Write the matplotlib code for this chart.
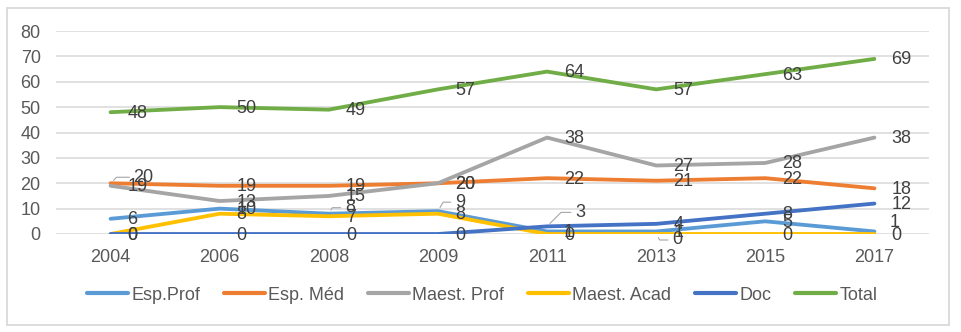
import matplotlib
matplotlib.use("Agg")
import matplotlib.pyplot as plt
from matplotlib.patches import Rectangle

# ---- data ------------------------------------------------------------------
years = ["2004", "2006", "2008", "2009", "2011", "2013", "2015", "2017"]

esp_prof   = [6, 10, 8, 9, 1, 1, 5, 1]
esp_med    = [20, 19, 19, 20, 22, 21, 22, 18]
maest_prof = [19, 13, 15, 20, 38, 27, 28, 38]
maest_acad = [0, 8, 7, 8, 0, 0, 0, 0]
doc        = [0, 0, 0, 0, 3, 4, 8, 12]
total      = [48, 50, 49, 57, 64, 57, 63, 69]

series_names = ["Esp.Prof", "Esp. Méd", "Maest. Prof", "Maest. Acad", "Doc", "Total"]
series_vals = [esp_prof, esp_med, maest_prof, maest_acad, doc, total]

# ---- style -----------------------------------------------------------------
COLORS = ["#5b9bd5", "#ed7d31", "#a5a5a5", "#ffc000", "#4472c4", "#70ad47"]
GRID   = "#d9d9d9"
LABEL  = "#404040"
TICK   = "#595959"
FONT   = "Liberation Sans"
FS     = 13

# label nudges (pixels from the point) for crowded spots;
# last item = angle of the leader line leaving the point (None = no leader)
NUDGE = {
    (1, 0): (23, 6, 45),
    (0, 2): (16, 6, 60),
    (0, 3): (17, 9, 60),
    (4, 4): (28, 14, 45),
    (3, 5): (16, -6, -60),
    (0, 7): (15, 9, None),
}
DX, DY = 17, -1

plt.rcParams["font.family"] = FONT

W, H = 961, 332
fig = plt.figure(figsize=(W / 100, H / 100), dpi=100)
fig.patch.set_facecolor("white")

# light frame around the whole chart
fig.add_artist(Rectangle((7 / W, 1 - 325 / H), (949 - 7) / W, (325 - 8) / H,
                         transform=fig.transFigure, fill=False,
                         edgecolor=GRID, linewidth=1.3))

ax = fig.add_axes([56 / W, 1 - 234 / H, (929 - 56) / W, (234 - 31) / H])
x = list(range(len(years)))

for i, (name, vals) in enumerate(zip(series_names, series_vals)):
    ax.plot(x, vals, color=COLORS[i], lw=2.75, solid_capstyle="round",
            solid_joinstyle="round", label=name, zorder=3 + i)

for i, vals in enumerate(series_vals):
    for j, v in enumerate(vals):
        dx, dy, ang = NUDGE.get((i, j), (DX, DY, None))
        kw = {}
        if ang is not None:
            kw["arrowprops"] = dict(
                arrowstyle="-", color="#a6a6a6", lw=0.8, shrinkA=1, shrinkB=3,
                relpos=(0, 0.5),
                connectionstyle=f"angle,angleA=0,angleB={ang},rad=0")
        ax.annotate(str(v), (j, v), xytext=(dx, dy), textcoords="offset pixels",
                    ha="left", va="center", fontsize=FS, color=LABEL,
                    zorder=20, **kw)

ax.set_xlim(-0.5, len(years) - 0.5)
ax.set_ylim(0, 80)
ax.set_yticks(range(0, 81, 10))
ax.set_xticks(x)
ax.set_xticklabels(years)
ax.grid(axis="y", color=GRID, lw=1.1, zorder=0)
ax.set_axisbelow(True)
for s in ax.spines.values():
    s.set_visible(False)
ax.tick_params(length=0, labelsize=FS, labelcolor=TICK)
ax.tick_params(axis="y", pad=11)
ax.tick_params(axis="x", pad=11)

fig.legend(loc="center", bbox_to_anchor=(482 / W, 1 - 295 / H), ncol=6,
           frameon=False, fontsize=FS, handlelength=2.3, handletextpad=0.17,
           columnspacing=1.3, labelcolor=TICK)
for line in fig.legends[0].get_lines():
    line.set_linewidth(3)

fig.savefig("out.png", dpi=100, facecolor="white")
